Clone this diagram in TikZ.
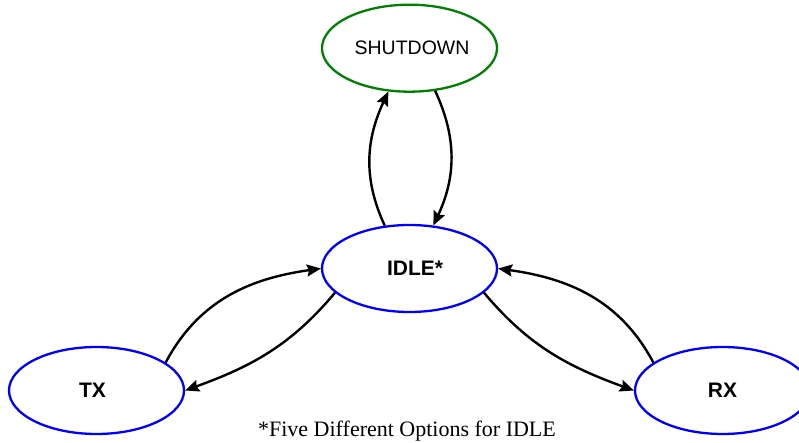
\documentclass[tikz,border=0pt]{standalone}
\usepackage{fontspec}
\setmainfont{Liberation Serif}
\setsansfont{Liberation Sans}
\usepackage{xcolor}
\usetikzlibrary{shapes.geometric,arrows.meta,positioning}
\definecolor{shutgreen}{RGB}{0,128,0}

\begin{document}
\begin{tikzpicture}[
    x=1pt, y=1pt,
    state/.style={ellipse, draw=blue, line width=2.3pt, minimum width=175pt, minimum height=87pt, inner sep=0pt, font=\sffamily\bfseries\fontsize{21}{24}\selectfont},
    offstate/.style={state, draw=shutgreen, font=\sffamily\fontsize{19.5}{22}\selectfont},
    arrow/.style={-{Stealth[length=14pt,width=12pt,inset=2pt]}, line width=2.4pt}
]
\useasboundingbox (0,0) rectangle (799,443);

% States
\node[state] (idle) at (409.5,174.5) {\hspace*{11pt}IDLE*};
\node[offstate, above=131pt of idle] (shutdown) {\hspace*{5pt}SHUTDOWN};
\node[state] (tx) at (96.5,52.5) {TX\hspace*{8pt}};
\node[state] (rx) at (722.5,52.5) {RX};

% Note
\node[anchor=base, font=\rmfamily\fontsize{22}{26}\selectfont] (note) at (407,6) {*Five Different Options for IDLE};

% Arrows to and from SHUTDOWN
\draw[arrow] (idle.120) to[out=115, in=-115] (shutdown.244);
\draw[arrow] (shutdown.301) to[out=-65, in=65] (idle.61);

% Arrows to and from TX
\draw[arrow] (tx.22) to[out=62, in=188] (idle.180);
\draw[arrow] (idle.198) to[out=230, in=20] (tx.0);

% Arrows to and from RX
\draw[arrow] (idle.-18) to[out=-50, in=160] (rx.180);
\draw[arrow] (rx.158) to[out=118, in=-8] (idle.0);

\end{tikzpicture}
\end{document}
